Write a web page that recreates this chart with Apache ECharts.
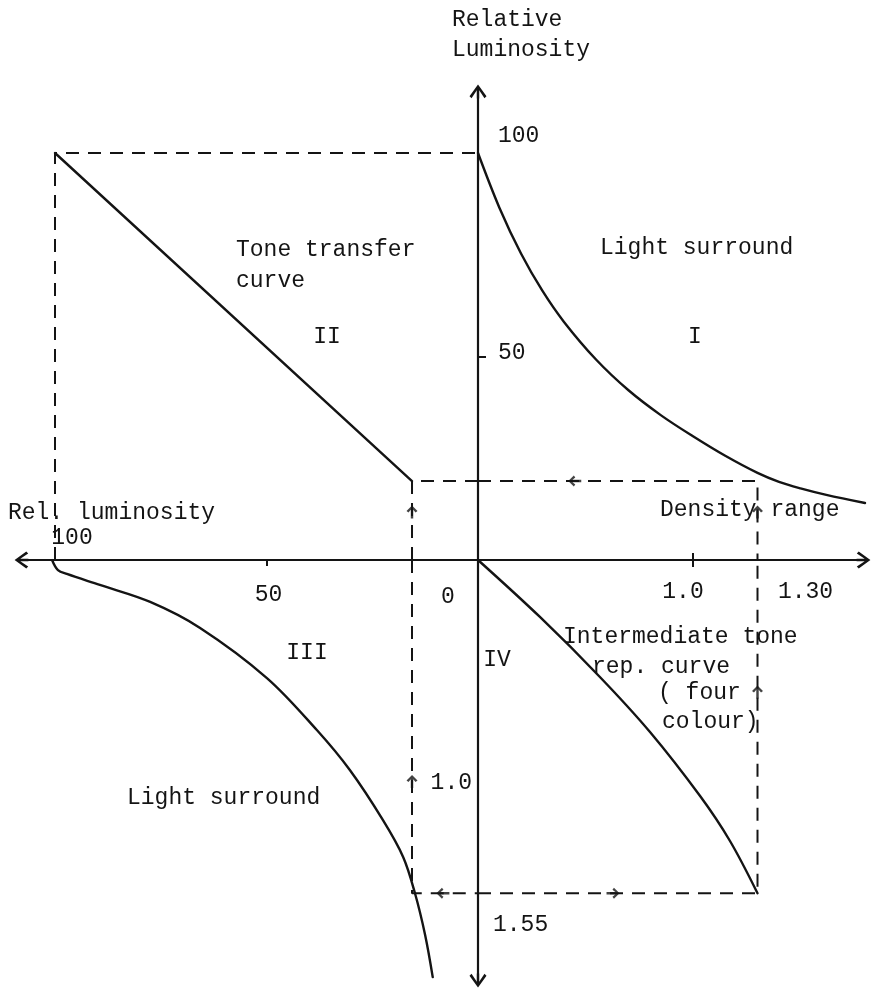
<!DOCTYPE html>
<html>
<head>
<meta charset="utf-8">
<title>Tone reproduction diagram</title>
<script src="https://cdn.jsdelivr.net/npm/echarts@6/dist/echarts.min.js"></script>
<style>
  html, body { margin: 0; padding: 0; background: #ffffff; }
  #chart { width: 873px; height: 989px; }
</style>
</head>
<body>
<div id="chart"></div>
<script>
// ---------------------------------------------------------------------------
// Data
// ---------------------------------------------------------------------------

// Quadrant I: light surround, density of the original vs. relative luminosity
const q1Density    = [0, 0.1, 0.2, 0.3, 0.4, 0.55, 0.7, 0.85, 1.0, 1.15, 1.30, 1.40, 1.50, 1.62, 1.80];
const q1Luminosity = [100, 86.5, 75.3, 66.1, 58.5, 49.2, 41.7, 35.6, 30.4, 25.6, 21.4, 19.2, 17.6, 16.0, 14.0];

// Quadrant II: tone transfer curve (rel. luminosity left vs. relative luminosity up)
const q2LumLeft = [100, 15.6];
const q2LumUp   = [100, 19.4];

// Quadrant III: light surround, rel. luminosity vs. density (downwards)
const q3LumLeft = [100.7, 99.3, 97.2, 89.4, 77.5, 65.7, 49.9, 38.1, 30.3, 22.5, 17.7, 14.9, 12.5, 10.7];
const q3Density = [0, 0.047, 0.065, 0.116, 0.195, 0.316, 0.549, 0.791, 0.977, 1.209, 1.381, 1.55, 1.744, 1.94];

// Quadrant IV: intermediate tone reproduction curve (four colour)
const q4DensityIn  = [0, 0.288, 0.567, 0.800, 1.033, 1.172, 1.30];
const q4DensityOut = [0, 0.265, 0.544, 0.800, 1.098, 1.307, 1.55];

// Construction values for the dashed paths
const whitePoint     = 100;   // relative luminosity of the lightest tone
const densityRange   = 1.30;  // density range of the original
const densityMax     = 1.55;  // maximum density of the print
const lumAtRange     = 19.4;  // luminosity reached at the density range
const lumTransferred = 15.6;  // luminosity after the tone transfer

// Flow arrows on the dashed paths: [x, y, direction]
const q1Arrows = [[0.45, lumAtRange, 'left'], [densityRange, 11.8, 'up']];
const q2Arrows = [[lumTransferred, 11.8, 'up']];
const q3Arrows = [[lumTransferred, 1.03, 'up'], [8.3, densityMax, 'left']];
const q4Arrows = [[densityRange, 0.614, 'up'], [0.628, densityMax, 'right']];

// Tick values and their labels
const densityXTicks      = [1.0, 1.30];
const densityXTickText   = ['1.0', '1.30'];
const lumUpTicks         = [50, 100];
const lumUpTickText      = ['50', '100'];
const lumLeftTicks       = [0, 50, 100];
const lumLeftTickText    = ['0', '50', '100'];
const densityDownTicksL  = [1.0];
const densityDownTextL   = ['1.0'];
const densityDownTicksR  = [1.55];
const densityDownTextR   = ['1.55'];

// ---------------------------------------------------------------------------
// Layout and style
// ---------------------------------------------------------------------------
const INK  = '#141414';
const FONT = "'Liberation Mono', 'DejaVu Sans Mono', monospace";
const FS   = 23;

const ORIGIN = [478, 560];
const PX_DENSITY = 215;   // px per density unit (both directions)
const PX_LUM_X   = 4.23;  // px per luminosity unit, horizontal
const PX_LUM_Y   = 4.07;  // px per luminosity unit, vertical
const DENS_X_MAX = 1.80, DENS_Y_MAX = 1.95, LUM_X_MAX = 108, LUM_Y_MAX = 115;

const wRight  = DENS_X_MAX * PX_DENSITY;
const wLeft   = LUM_X_MAX * PX_LUM_X;
const hTop    = LUM_Y_MAX * PX_LUM_Y;
const hBottom = DENS_Y_MAX * PX_DENSITY;

const baseGrid = { containLabel: false, outerBoundsMode: 'none' };
const grids = [
  { ...baseGrid, left: ORIGIN[0],         top: ORIGIN[1] - hTop, width: wRight, height: hTop },    // I
  { ...baseGrid, left: ORIGIN[0] - wLeft, top: ORIGIN[1] - hTop, width: wLeft,  height: hTop },    // II
  { ...baseGrid, left: ORIGIN[0] - wLeft, top: ORIGIN[1],        width: wLeft,  height: hBottom }, // III
  { ...baseGrid, left: ORIGIN[0],         top: ORIGIN[1],        width: wRight, height: hBottom }, // IV
  { ...baseGrid, left: 21.5, top: ORIGIN[1], width: 842, height: 1 },  // horizontal main axis
  { ...baseGrid, left: ORIGIN[0], top: 91.5, width: 1, height: 889 }  // vertical main axis
];

// open arrow heads with a short stem, pointing up in symbol space
const AXIS_ARROW = 'path://M8,0L16,11L14.1,12.8L9.1,5.4L9.1,13L6.9,13L6.9,5.4L1.9,12.8L0,11Z';
const FLOW_ARROW = 'path://M5,0L10,6L8.2,7.6L6.1,4.6L6.1,14L3.9,14L3.9,4.6L1.8,7.6L0,6Z';
const ROTATE = { up: 0, left: 90, right: -90, down: 180 };

// tick labels as rich text, each nudged by [dx, dy] pixels
function tickLabel(values, texts, shifts, extra) {
  const rich = {};
  values.forEach((v, i) => {
    const s = shifts[i] || [0, 0];
    const dx = s[0], dy = s[1];
    rich['t' + i] = {
      fontFamily: FONT, fontSize: FS, color: INK,
      padding: [Math.max(dy, 0) * 2, Math.max(-dx, 0) * 2, Math.max(-dy, 0) * 2, Math.max(dx, 0) * 2]
    };
  });
  return Object.assign({
    show: true,
    customValues: values,
    color: INK, fontFamily: FONT, fontSize: FS,
    formatter: function (val) {
      const i = values.findIndex(v => Math.abs(v - val) < 1e-6);
      return i < 0 ? '' : '{t' + i + '|' + texts[i] + '}';
    },
    rich: rich
  }, extra || {});
}

const hidden = { show: false };
function quadAxis(extra) {
  return Object.assign({
    type: 'value',
    axisLine: { show: false },
    splitLine: hidden,
    axisTick: hidden,
    axisLabel: hidden
  }, extra);
}
const tickStyle = { color: INK, width: 2 };
const mainLine = {
  show: true, onZero: false, symbol: [AXIS_ARROW, AXIS_ARROW], symbolSize: [17, 14],
  lineStyle: { color: INK, width: 2.2 }
};

const xAxes = [
  quadAxis({ gridIndex: 0, min: 0, max: DENS_X_MAX, position: 'bottom',
    axisTick: { show: true, customValues: [1.0], length: 7, lineStyle: tickStyle },
    axisLabel: tickLabel(densityXTicks, densityXTickText, [[-10, 0], [48, 0]], { verticalAlign: 'middle', margin: 32 }) }),
  quadAxis({ gridIndex: 1, min: 0, max: LUM_X_MAX, inverse: true, position: 'bottom',
    axisTick: { show: true, customValues: [50], length: 6, lineStyle: tickStyle },
    axisLabel: tickLabel(lumLeftTicks, lumLeftTickText, [[-30, 2], [2, 0], [17, -57]], { verticalAlign: 'middle', margin: 35 }) }),
  quadAxis({ gridIndex: 2, min: 0, max: LUM_X_MAX, inverse: true, position: 'top' }),
  quadAxis({ gridIndex: 3, min: 0, max: DENS_X_MAX, position: 'top',
    axisTick: { show: true, customValues: [1.0], length: 7, lineStyle: tickStyle } }),
  { gridIndex: 4, type: 'value', min: 0, max: 1, position: 'top',
    axisLine: mainLine, axisTick: hidden, axisLabel: hidden, splitLine: hidden },
  { gridIndex: 5, type: 'value', min: 0, max: 1, show: false }
];

const yAxes = [
  quadAxis({ gridIndex: 0, min: 0, max: LUM_Y_MAX, position: 'left',
    axisTick: { show: true, customValues: [50], inside: true, length: 8, lineStyle: tickStyle },
    axisLabel: tickLabel(lumUpTicks, lumUpTickText, [[0, -4], [0, -17]], { inside: true, margin: 20 }) }),
  quadAxis({ gridIndex: 1, min: 0, max: LUM_Y_MAX, position: 'right' }),
  quadAxis({ gridIndex: 2, min: 0, max: DENS_Y_MAX, inverse: true, position: 'right',
    axisLabel: tickLabel(densityDownTicksL, densityDownTextL, [[0, 8]], { inside: true, margin: 6 }) }),
  quadAxis({ gridIndex: 3, min: 0, max: DENS_Y_MAX, inverse: true, position: 'left',
    axisLabel: tickLabel(densityDownTicksR, densityDownTextR, [[0, 32]], { inside: true, margin: 15 }) }),
  { gridIndex: 4, type: 'value', min: 0, max: 1, show: false },
  { gridIndex: 5, type: 'value', min: 0, max: 1, position: 'left',
    axisLine: mainLine, axisTick: hidden, axisLabel: hidden, splitLine: hidden }
];

// ---------------------------------------------------------------------------
// Series
// ---------------------------------------------------------------------------
function zip(xs, ys) { return xs.map((x, i) => [x, ys[i]]); }

function curve(g, xs, ys, smooth) {
  return {
    type: 'line', xAxisIndex: g, yAxisIndex: g, data: zip(xs, ys),
    symbol: 'none', showSymbol: false, smooth: smooth, silent: true, z: 3,
    lineStyle: { color: INK, width: 2.4, cap: 'round', join: 'round' }
  };
}
function dashed(g, points) {
  return {
    type: 'line', xAxisIndex: g, yAxisIndex: g, data: points,
    symbol: 'none', showSymbol: false, silent: true, z: 2,
    lineStyle: { color: INK, width: 2, type: [13, 9] }
  };
}
function arrows(g, list) {
  return {
    type: 'scatter', xAxisIndex: g, yAxisIndex: g, silent: true, z: 4,
    symbol: FLOW_ARROW, symbolSize: [11, 13],
    itemStyle: { color: INK },
    data: list.map(a => ({ value: [a[0], a[1]], symbolRotate: ROTATE[a[2]] }))
  };
}

const series = [
  // curves
  curve(0, q1Density, q1Luminosity, 0.35),
  curve(1, q2LumLeft, q2LumUp, false),
  curve(2, q3LumLeft, q3Density, 0.35),
  curve(3, q4DensityIn, q4DensityOut, 0.35),

  // dashed construction paths
  dashed(1, [[whitePoint, 0], [whitePoint, whitePoint], [0, whitePoint]]),
  dashed(1, [[0, lumAtRange], [lumTransferred, lumAtRange], [lumTransferred, 0]]),
  dashed(0, [[0, lumAtRange], [densityRange, lumAtRange], [densityRange, 0]]),
  dashed(2, [[lumTransferred, 0], [lumTransferred, densityMax], [0, densityMax]]),
  dashed(3, [[0, densityMax], [densityRange, densityMax], [densityRange, 0]]),

  // flow arrows
  arrows(0, q1Arrows),
  arrows(1, q2Arrows),
  arrows(2, q3Arrows),
  arrows(3, q4Arrows)
];

// ---------------------------------------------------------------------------
// Titles and annotations
// ---------------------------------------------------------------------------
const annotations = [
  { text: 'Relative',          x: 452, y: 20 },
  { text: 'Luminosity',        x: 452, y: 50 },
  { text: 'Tone transfer',     x: 236, y: 250 },
  { text: 'curve',             x: 236, y: 281 },
  { text: 'II',                x: 327, y: 337, align: 'center' },
  { text: 'Light surround',    x: 600, y: 248 },
  { text: 'I',                 x: 695, y: 337, align: 'center' },
  { text: 'Rel. luminosity',   x: 8,   y: 513 },
  { text: 'Density range',     x: 660, y: 510 },
  { text: 'III',               x: 307, y: 653, align: 'center' },
  { text: 'IV',                x: 497, y: 660, align: 'center' },
  { text: 'Intermediate tone', x: 563, y: 637 },
  { text: 'rep. curve',        x: 592, y: 667 },
  { text: '( four',            x: 658, y: 693 },
  { text: 'colour)',           x: 662, y: 722 },
  { text: 'Light surround',    x: 127, y: 798 }
];

const graphic = annotations.map(a => ({
  type: 'text', x: a.x, y: a.y, z: 100, silent: true,
  style: { text: a.text, font: FS + 'px ' + FONT, fill: INK, align: a.align || 'left', verticalAlign: 'middle' }
}));

const chart = echarts.init(document.getElementById('chart'), null, { renderer: 'canvas' });
chart.setOption({
  backgroundColor: '#ffffff',
  animation: false,
  grid: grids,
  xAxis: xAxes,
  yAxis: yAxes,
  series: series,
  graphic: graphic
});
</script>
</body>
</html>
